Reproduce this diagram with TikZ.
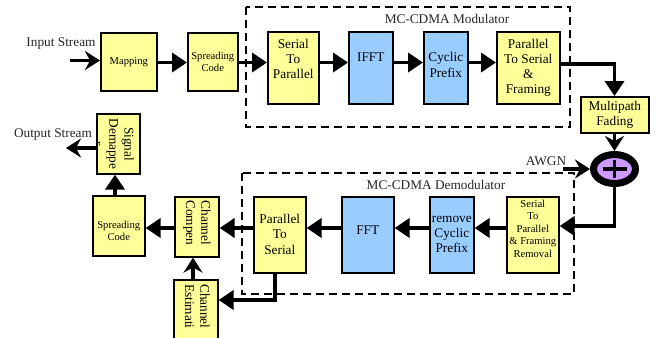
\documentclass[tikz,border=0pt]{standalone}
\usepackage{fontspec}
\setmainfont{Liberation Serif}
\usetikzlibrary{shapes.geometric, arrows.meta}
\definecolor{boxyellow}{RGB}{255,255,153}
\definecolor{boxblue}{RGB}{153,204,255}
\definecolor{sumpurple}{RGB}{204,153,255}
\tikzstyle{yellowbox} = [rectangle, anchor=north west, inner sep=0pt, align=center, line width=1.6pt, draw=black, fill=boxyellow, font=\fontsize{13.3}{15.3}\selectfont]
\tikzstyle{bluebox} = [yellowbox, fill=boxblue]
\tikzstyle{smalltext} = [font=\fontsize{10.6}{12.4}\selectfont]
\tikzstyle{sumnode} = [ellipse, minimum width=42pt, minimum height=29pt, inner sep=0pt, line width=7pt, draw=black, fill=sumpurple]
\tikzstyle{plusline} = [line width=3.5pt]
\tikzstyle{caption} = [font=\fontsize{13.3}{15}\selectfont, text=black!85]
\tikzstyle{dashbox} = [line width=1.4pt, dash pattern=on 8pt off 5pt]
\tikzstyle{arrow} = [line width=3.8pt, -{Triangle[length=15pt, width=19pt]}]
\tikzstyle{barbarrow} = [line width=3.8pt, -{Stealth[length=15pt, width=19pt, inset=5pt]}]

\begin{document}
\begin{tikzpicture}[x=1pt, y=-1pt]

\clip (0,0) rectangle (660,337);

% modulator
\draw [dashbox] (246,7) rectangle (570,127);
\draw [dashbox] (242,173) rectangle (574,294);
\node (modlabel) [caption] at (447,19) {MC-CDMA Modulator};
\node (demodlabel) [caption] at (436,185) {MC-CDMA Demodulator};

\node (mapping) [yellowbox, smalltext, minimum width=56pt, minimum height=58pt] at (100,32) {Mapping};
\node (spreadtx) [yellowbox, smalltext, minimum width=50pt, minimum height=58pt] at (187,32) {Spreading\\Code};
\node (s2p) [yellowbox, minimum width=51pt, minimum height=72pt] at (267,31) {Serial\\To\\Parallel\\[2.5pt]};
\node (ifft) [bluebox, minimum width=44pt, minimum height=72pt] at (348,31) {IFFT\\[6.5pt]};
\node (cptx) [bluebox, minimum width=44pt, minimum height=72pt] at (423,31) {Cyclic\\Prefix\\[-9.5pt]};
\node (p2s) [yellowbox, minimum width=63pt, minimum height=72pt] at (496,31) {Parallel\hspace{6pt}\\To Serial\\\&\\Framing};
\node (fading) [yellowbox, minimum width=68pt, minimum height=36pt] at (580,96) {Multipath\\Fading};
\node (sum) [sumnode] at (614.5,169) {};

% demodulator
\node (s2prx) [yellowbox, smalltext, minimum width=52pt, minimum height=76pt] at (506,196) {Serial\\To\\Parallel\\\& Framing\\Removal\\};
\node (cprx) [bluebox, minimum width=44pt, minimum height=76pt] at (429,196) {\mbox{}\\[-9.5pt]remove\\Cyclic\\Prefix};
\node (fft) [bluebox, minimum width=52pt, minimum height=76pt] at (341,196) {FFT\\[-5pt]};
\node (p2srx) [yellowbox, minimum width=52pt, minimum height=76pt] at (253,196) {\mbox{}\\[-7.3pt]Parallel\\To\\Serial};
\node (compen) [yellowbox, minimum width=44pt, minimum height=60pt] at (174,196) {\rotatebox{-90}{\begin{tabular}{@{}c@{\hspace{8pt}}}Channel\\Compen\end{tabular}}};
\node (estim) [yellowbox, minimum width=44pt, minimum height=70pt] at (173,279) {\rotatebox{-90}{\begin{tabular}{@{}c@{\hspace{17pt}}}Channel\\Estimati\end{tabular}}};
\node (spreadrx) [yellowbox, smalltext, minimum width=52pt, minimum height=60pt] at (92,195) {\mbox{}\\[5.5pt]Spreading\\Code};
\node (demap) [yellowbox, minimum width=43pt, minimum height=60pt] at (96,113) {};
\begin{scope}
\clip (demap.north west) rectangle (demap.south east);
\node (demaptext) [font=\fontsize{13.3}{15.3}\selectfont, inner sep=0pt] at (112.5,144) {\rotatebox{-90}{\begin{tabular}{@{}c@{}}Signal\\Demappe\\r\end{tabular}}};
\end{scope}

\coordinate (instart) at (70,60.5);
\coordinate (outend) at (66,148);
\coordinate (awgnstart) at (563,169);
\coordinate (toprow) at (0,62.5);
\coordinate (botrow) at (0,228);
\coordinate (turntx) at (614.5,64);
\coordinate (turnrx) at (614.5,226);
\coordinate (turnest) at (275,300);
\coordinate (upone) at (115,0);
\coordinate (uptwo) at (193,0);

\node (instream) [caption] at (61,44) {Input Stream};
\node (outstream) [caption] at (53,135) {Output Stream};
\node (awgn) [caption] at (546,161) {AWGN};

\draw [barbarrow] (instart) -- (mapping.west |- instart);
\draw [arrow] (mapping.east |- toprow) -- (spreadtx.west |- toprow);
\draw [arrow] (spreadtx.east |- toprow) -- (s2p.west |- toprow);
\draw [arrow] (s2p.east |- toprow) -- (ifft.west |- toprow);
\draw [arrow] (ifft.east |- toprow) -- (cptx.west |- toprow);
\draw [arrow] (cptx.east |- toprow) -- (p2s.west |- toprow);
\draw [arrow] (p2s.east |- turntx) -- (turntx) -- (fading.north -| turntx);
\draw [barbarrow] (fading.south -| sum) -- (sum);
\draw [barbarrow] (awgnstart) -- (sum);
\draw [arrow] (sum) -- (turnrx) -- (s2prx.east |- turnrx);
\draw [arrow] (s2prx.west |- botrow) -- (cprx.east |- botrow);
\draw [arrow] (cprx.west |- botrow) -- (fft.east |- botrow);
\draw [arrow] (fft.west |- botrow) -- (p2srx.east |- botrow);
\draw [arrow] (p2srx.west |- botrow) -- (compen.east |- botrow);
\draw [arrow] (compen.west |- botrow) -- (spreadrx.east |- botrow);
\draw [arrow] (spreadrx.north -| upone) -- (demap.south -| upone);
\draw [barbarrow] (demap.west |- outend) -- (outend);
\draw [barbarrow] (estim.north -| uptwo) -- (compen.south -| uptwo);
\draw [arrow] (p2srx.south -| turnest) -- (turnest) -- (estim.east |- turnest);

% plus sign
\draw [plusline] ([xshift=-12pt]sum.center) -- ([xshift=12pt]sum.center);
\draw [plusline] ([yshift=-9pt]sum.center) -- ([yshift=9pt]sum.center);

\end{tikzpicture}
\end{document}
